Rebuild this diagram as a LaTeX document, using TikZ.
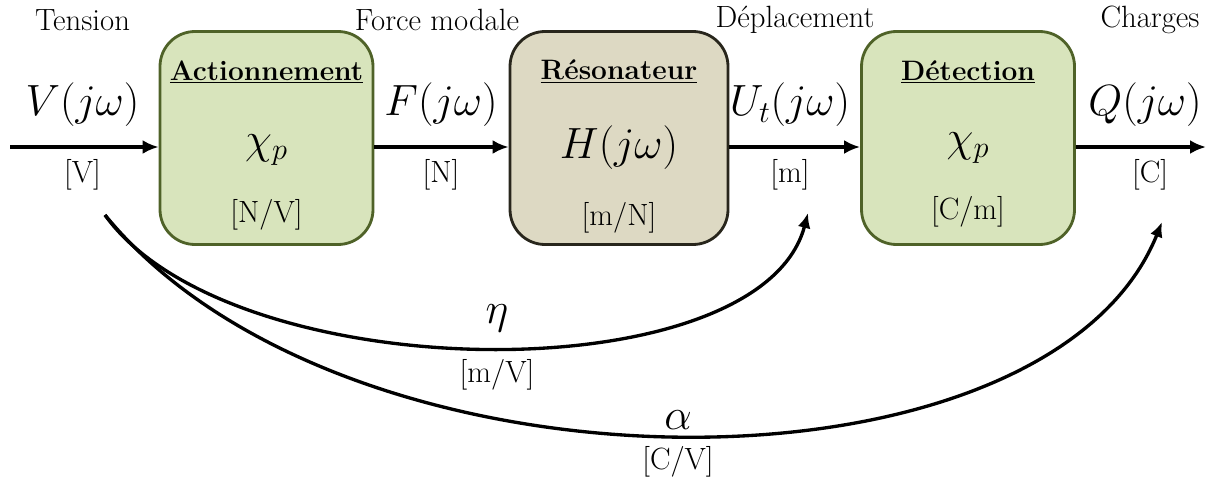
\documentclass[tikz,border=0pt]{standalone}
\usetikzlibrary{arrows.meta,positioning,calc}

\definecolor{vertclair}{RGB}{216,228,188}
\definecolor{vertfonce}{RGB}{79,98,40}
\definecolor{beige}{RGB}{221,217,195}
\definecolor{brunfonce}{RGB}{40,38,28}

\begin{document}
\begin{tikzpicture}[
  x=1cm, y=1cm,
  bloc/.style={
    rectangle,
    rounded corners=0.7cm,
    draw=vertfonce,
    line width=1.6pt,
    minimum width=4.26cm,
    minimum height=4.26cm,
    fill=vertclair
  },
  titre/.style={font=\fontsize{16}{19}\selectfont\bfseries},
  gain/.style={font=\fontsize{26}{30}\selectfont},
  grandeur/.style={font=\fontsize{24}{28}\selectfont},
  unite/.style={font=\fontsize{17.5}{21}\selectfont},
  lien/.style={-{Latex[length=3.2mm,width=2.8mm]}, line width=2.2pt},
  courbe/.style={-{Latex[length=3mm,width=2.6mm]}, line width=1.9pt}
]
\useasboundingbox (0,0) rectangle (24.26,-9.64);

% blocs
\node[bloc] (act) at (5.33,-2.76) {};
\node[bloc, fill=beige, draw=brunfonce, minimum width=4.36cm] (res) at (12.38,-2.76) {};
\node[bloc] (det) at (19.36,-2.76) {};

\node[titre] (actT) at ([yshift=1.32cm]act.center) {\underline{Actionnement}};
\node[gain] (actG) at ([yshift=-0.24cm]act.center) {$\chi_p$};
\node[unite] (actU) at ([yshift=-1.54cm]act.center) {[N/V]};

\node[titre] (resT) at ([yshift=1.32cm]res.center) {\underline{Résonateur}};
\node[gain] (resG) at ([yshift=-0.2cm]res.center) {$H(j\omega)$};
\node[unite] (resU) at ([yshift=-1.6cm]res.center) {[m/N]};

\node[titre] (detT) at ([yshift=1.32cm]det.center) {\underline{Détection}};
\node[gain] (detG) at ([yshift=-0.2cm]det.center) {$\chi_p$};
\node[unite] (detU) at ([yshift=-1.48cm]det.center) {[C/m]};

% grandeurs
\node[unite] (tension) at (1.65,-0.4) {Tension};
\node[unite] (force) at (8.74,-0.4) {Force modale};
\node[unite] (depl) at (15.9,-0.4) {Déplacement};
\node[unite] (charges) at (23.0,-0.4) {Charges};

\node[grandeur] (sigV) at (1.65,-2.1) {$V(j\omega)$};
\node[grandeur] (sigF) at (8.82,-2.1) {$F(j\omega)$};
\node[grandeur] (sigU) at (15.8,-2.1) {$U_t(j\omega)$};
\node[grandeur] (sigQ) at (22.9,-2.1) {$Q(j\omega)$};

\node[unite] (uV) at (1.65,-3.5) {[V]};
\node[unite] (uN) at (8.82,-3.5) {[N]};
\node[unite] (uM) at (15.8,-3.5) {[m]};
\node[unite] (uC) at (23.0,-3.5) {[C]};

% chaine principale
\coordinate (entree) at (0.2,-2.94);
\coordinate (sortie) at (24.12,-2.94);
\draw[lien] (entree) -- (entree -| act.west);
\draw[lien] ([yshift=-0.18cm]act.east) -- ([yshift=-0.18cm]res.west);
\draw[lien] ([yshift=-0.18cm]res.east) -- ([yshift=-0.18cm]det.west);
\draw[lien] ([yshift=-0.18cm]det.east) -- (sortie);

% transferts directs
\coordinate (depart) at (2.1,-4.3);
\coordinate (finEta) at (16.16,-4.26);
\coordinate (finAlpha) at (23.24,-4.44);
\draw[courbe] (depart) .. controls (4.6,-7.8) and (15.2,-7.9) .. (finEta);
\draw[courbe] (depart) .. controls (6.9,-10.16) and (20.94,-10.16) .. (finAlpha);

\node[grandeur] (eta) at (9.94,-6.36) {$\eta$};
\node[unite] (uEta) at (9.94,-7.5) {[m/V]};
\node[grandeur] (alpha) at (13.56,-8.4) {$\alpha$};
\node[unite] (uAlpha) at (13.56,-9.24) {[C/V]};

\end{tikzpicture}
\end{document}
